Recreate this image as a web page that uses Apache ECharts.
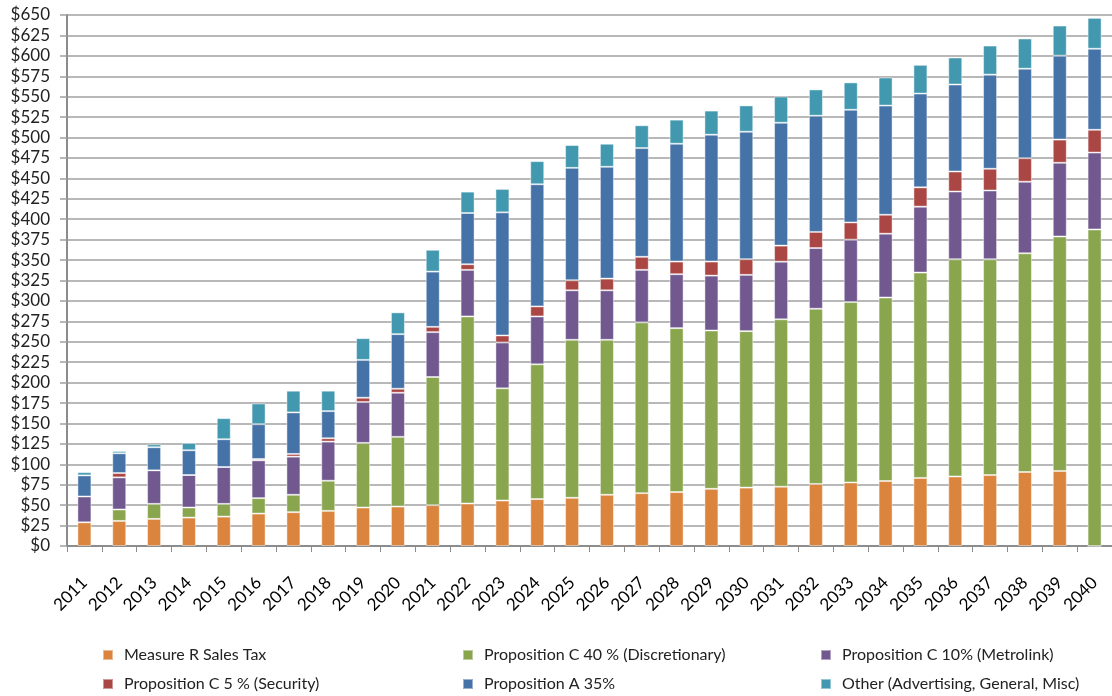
<!DOCTYPE html>
<html>
<head>
<meta charset="utf-8">
<script src="https://cdn.jsdelivr.net/npm/echarts@6/dist/echarts.min.js"></script>
<style>
html,body{margin:0;padding:0;background:#fff;}
#chart{width:1112px;height:696px;}
</style>
</head>
<body>
<div id="chart"></div>
<script>
var years = ['2011','2012','2013','2014','2015','2016','2017','2018','2019','2020','2021','2022','2023','2024','2025','2026','2027','2028','2029','2030','2031','2032','2033','2034','2035','2036','2037','2038','2039','2040'];
var measureR = [29.0,30.7,33.2,34.8,36.0,39.7,41.4,43.0,47.1,48.3,50.0,52.0,55.7,57.4,59.0,62.7,64.7,66.0,70.0,71.5,72.6,76.0,77.8,79.5,83.3,85.1,86.8,90.6,91.9,0];
var propC40 = [0,14.0,18.4,12.3,15.6,18.9,21.3,36.9,79.1,85.3,156.9,229.0,137.3,165.0,193.4,189.7,209.0,200.7,193.8,191.5,204.9,214.4,220.8,224.7,251.4,265.9,264.2,267.7,287.0,387.5];
var propC10 = [31.6,39.3,41.0,39.8,45.1,46.3,46.7,47.9,50.0,54.0,54.9,57.0,56.1,58.6,60.6,60.6,64.3,66.0,67.2,68.9,70.5,74.3,76.4,78.1,80.7,82.9,84.2,87.6,90.2,94.1];
var propC5 = [0,5.3,0,0,0,1.6,3.3,4.1,5.3,4.9,6.5,6.9,8.6,12.3,12.3,14.3,16.0,15.5,17.2,19.2,19.7,19.8,21.1,23.2,23.6,24.5,26.6,28.8,28.4,27.9];
var propA35 = [25.8,24.2,28.3,30.3,34.0,42.6,50.8,33.2,46.3,66.8,67.6,62.7,150.7,149.5,137.6,136.9,133.1,144.2,155.3,156.0,150.4,142.2,137.9,133.6,114.8,106.5,115.2,109.6,102.7,99.2];
var other = [4.0,2.8,3.6,9.0,25.8,25.4,26.6,25.0,26.6,26.7,26.7,26.2,28.7,28.3,27.9,28.2,27.9,29.5,29.5,32.2,32.2,32.2,33.5,34.4,35.2,33.1,35.6,36.9,36.9,37.8];
var seriesNames = ['Measure R Sales Tax','Proposition C 40 % (Discretionary)','Proposition C 10% (Metrolink)','Proposition C 5 % (Security)','Proposition A 35%','Other (Advertising, General, Misc)'];
var seriesData = [measureR, propC40, propC10, propC5, propA35, other];
var colors = ['#DB843D','#89A54E','#71588F','#AA4643','#4572A7','#4198AF'];

var FONT = 'Lato';
var chart = echarts.init(document.getElementById('chart'));

// legend placement: [series index, left, top]
var legendSlots = [[0,102,646],[1,462,646],[2,820,646],[3,102,675],[4,462,675],[5,820,675]];

function legendItem(slot) {
  return {
    orient: 'horizontal', left: slot[1], top: slot[2], padding: 0,
    itemWidth: 10, itemHeight: 10, icon: 'rect',
    selectedMode: false,
    data: [seriesNames[slot[0]]],
    textStyle: { fontFamily: FONT, fontSize: 16, color: '#222', lineHeight: 18, padding: [0,0,0,6] }
  };
}

var option = {
  animation: false,
  color: colors,
  grid: { left: 67, top: 15, width: 1050, height: 531, containLabel: false },
  legend: legendSlots.map(legendItem),
  xAxis: {
    type: 'category', data: years,
    axisLine: { lineStyle: { color: '#8c8c8c', width: 2 } },
    axisTick: { show: true, length: 6, lineStyle: { color: '#8c8c8c', width: 1 } },
    axisLabel: { rotate: 45, margin: 34, fontFamily: FONT, fontSize: 17, color: '#000', interval: 0 }
  },
  yAxis: {
    type: 'value', min: 0, max: 650, interval: 25,
    axisLine: { show: true, lineStyle: { color: '#8c8c8c', width: 2 } },
    axisTick: { show: true, length: 7, lineStyle: { color: '#a0a0a0', width: 1.5 } },
    splitLine: { lineStyle: { color: '#a0a0a0', width: 1.5 } },
    axisLabel: { margin: 17, fontFamily: FONT, fontSize: 17, color: '#222', formatter: function(v){ return '$' + v; } }
  },
  series: seriesNames.map(function(n, i) {
    return {
      name: n, type: 'bar', stack: 'total', data: seriesData[i],
      barWidth: 14,
      itemStyle: { color: colors[i], borderColor: 'rgba(255,255,255,0.45)', borderWidth: 1 }
    };
  })
};
chart.setOption(option);
</script>
</body>
</html>
